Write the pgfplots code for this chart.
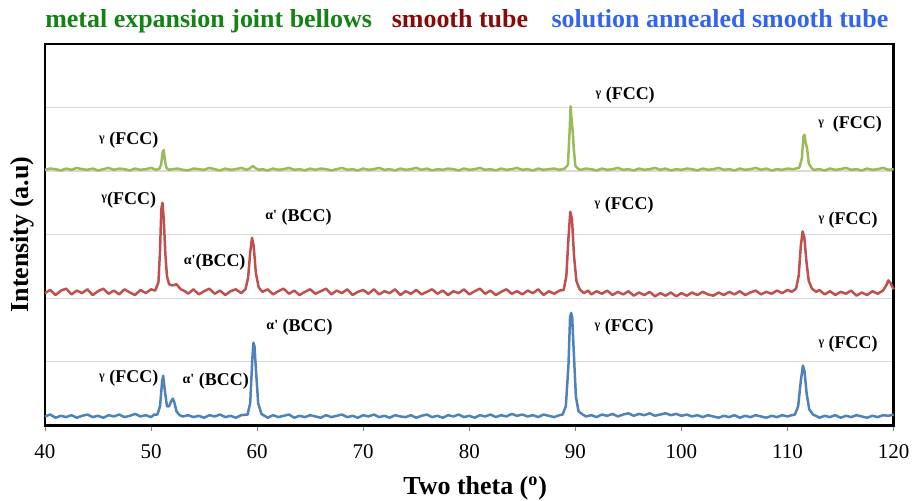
\documentclass[border=0pt]{standalone}
\usepackage{fontspec}
\setmainfont{Liberation Serif}
\usepackage{pgfplots}
\pgfplotsset{compat=1.18}
\definecolor{xgreen}{RGB}{155,187,89}
\definecolor{xred}{RGB}{192,80,77}
\definecolor{xblue}{RGB}{79,129,189}
\definecolor{tgreen}{RGB}{20,130,20}
\definecolor{tred}{RGB}{135,10,10}
\definecolor{tblue}{RGB}{50,100,240}
\newcommand{\gam}{{\fontsize{6}{6}\selectfont\raisebox{0.55ex}{γ}}}
\newcommand{\alp}{{\fontsize{7}{7}\selectfont\raisebox{0.35ex}{α\textquotesingle}}}

\begin{document}
\begin{tikzpicture}
\begin{axis}[
    width=425pt, height=191pt, scale only axis,
    xmin=40, xmax=120, ymin=0, ymax=6,
    xtick={40,50,...,120},
    ytick={0,1,...,6}, yticklabels={},
    ytick style={draw=none},
    xtick pos=bottom, tick align=outside,
    major tick length=3pt,
    xtick style={draw=gray, thin},
    ymajorgrids, grid style={draw=gray!30, line width=0.6pt},
    axis line style={line width=1.2pt},
    ticklabel style={font=\fontsize{10.5}{12}\selectfont},
    xticklabel style={yshift=-3pt},
    /pgf/number format/assume math mode=true,
    every axis plot/.append style={line width=1.25pt, no markers, line join=round},
    clip=false,
]
% metal expansion joint bellows
\addplot[xgreen] coordinates {
(40,4.02)(40.5,4.04)(41,4.03)(41.5,4.01)(42,4.04)(42.5,4.02)(43,4.05)(43.5,4.03)(44,4.02)(44.5,4.04)(45,4.01)(45.5,4.03)(46,4.05)(46.5,4.02)(47,4.04)(47.5,4.03)(48,4.01)(48.5,4.04)(49,4.02)(49.5,4.03)(50,4.05)(50.5,4.02)(50.8,4.04)(50.95,4.10)(51.1,4.30)(51.2,4.33)(51.3,4.18)(51.45,4.05)(51.7,4.02)(52,4.03)(52.5,4.04)(53,4.02)(53.5,4.01)(54,4.04)(54.5,4.03)(55,4.02)(55.5,4.05)(56,4.03)(56.5,4.01)(57,4.04)(57.5,4.02)(58,4.03)(58.5,4.05)(59,4.02)(59.3,4.04)(59.6,4.08)(59.9,4.04)(60.2,4.02)(60.5,4.03)(61,4.01)(61.5,4.04)(62,4.02)(62.5,4.03)(63,4.05)(63.5,4.02)(64,4.03)(64.5,4.01)(65,4.04)(65.5,4.02)(66,4.04)(66.5,4.03)(67,4.01)(67.5,4.03)(68,4.05)(68.5,4.02)(69,4.03)(69.5,4.01)(70,4.04)(70.5,4.02)(71,4.03)(71.5,4.05)(72,4.02)(72.5,4.03)(73,4.01)(73.5,4.04)(74,4.02)(74.5,4.03)(75,4.05)(75.5,4.02)(76,4.04)(76.5,4.01)(77,4.03)(77.5,4.02)(78,4.04)(78.5,4.03)(79,4.01)(79.5,4.04)(80,4.02)(80.5,4.03)(81,4.05)(81.5,4.02)(82,4.03)(82.5,4.01)(83,4.04)(83.5,4.02)(84,4.03)(84.5,4.05)(85,4.02)(85.5,4.03)(86,4.01)(86.5,4.04)(87,4.02)(87.5,4.03)(88,4.04)(88.5,4.02)(89,4.04)(89.3,4.10)(89.45,4.60)(89.55,5.02)(89.65,4.80)(89.75,4.62)(89.85,4.35)(90,4.08)(90.3,4.03)(90.5,4.02)(91,4.04)(91.5,4.03)(92,4.01)(92.5,4.04)(93,4.02)(93.5,4.03)(94,4.05)(94.5,4.02)(95,4.03)(95.5,4.01)(96,4.04)(96.5,4.02)(97,4.03)(97.5,4.05)(98,4.02)(98.5,4.04)(99,4.01)(99.5,4.03)(100,4.02)(100.5,4.04)(101,4.03)(101.5,4.01)(102,4.04)(102.5,4.02)(103,4.03)(103.5,4.05)(104,4.02)(104.5,4.03)(105,4.01)(105.5,4.04)(106,4.02)(106.5,4.03)(107,4.05)(107.5,4.02)(108,4.04)(108.5,4.01)(109,4.03)(109.5,4.02)(110,4.04)(110.5,4.03)(111.1,4.05)(111.35,4.20)(111.5,4.55)(111.6,4.57)(111.7,4.45)(111.85,4.35)(112,4.12)(112.3,4.04)(112.5,4.02)(113,4.03)(113.5,4.01)(114,4.04)(114.5,4.02)(115,4.03)(115.5,4.05)(116,4.02)(116.5,4.03)(117,4.01)(117.5,4.04)(118,4.02)(118.5,4.03)(119,4.05)(119.5,4.02)(120,4.03)
};
% smooth tube
\addplot[xred] coordinates {
(40,2.08)(40.5,2.13)(41,2.05)(41.5,2.12)(42,2.15)(42.5,2.06)(43,2.12)(43.5,2.08)(44,2.14)(44.5,2.05)(45,2.11)(45.5,2.15)(46,2.07)(46.5,2.12)(47,2.06)(47.5,2.14)(48,2.09)(48.5,2.05)(49,2.13)(49.5,2.08)(50,2.14)(50.4,2.12)(50.7,2.25)(50.85,2.75)(50.97,3.40)(51.08,3.50)(51.2,3.25)(51.35,2.70)(51.5,2.35)(51.7,2.22)(52,2.20)(52.4,2.22)(52.8,2.14)(53.2,2.11)(53.5,2.07)(54,2.14)(54.5,2.06)(55,2.11)(55.5,2.15)(56,2.07)(56.5,2.12)(57,2.05)(57.5,2.11)(58,2.14)(58.5,2.08)(58.9,2.14)(59.15,2.32)(59.35,2.72)(59.52,2.95)(59.68,2.82)(59.88,2.40)(60.15,2.17)(60.5,2.10)(61,2.14)(61.5,2.06)(62,2.11)(62.5,2.15)(63,2.07)(63.5,2.12)(64,2.05)(64.5,2.10)(65,2.14)(65.5,2.07)(66,2.11)(66.5,2.15)(67,2.06)(67.5,2.12)(68,2.08)(68.5,2.14)(69,2.05)(69.5,2.10)(70,2.13)(70.5,2.07)(71,2.14)(71.5,2.06)(72,2.11)(72.5,2.08)(73,2.14)(73.5,2.05)(74,2.11)(74.5,2.07)(75,2.13)(75.5,2.06)(76,2.10)(76.5,2.14)(77,2.07)(77.5,2.12)(78,2.05)(78.5,2.11)(79,2.08)(79.5,2.14)(80,2.06)(80.5,2.11)(81,2.15)(81.5,2.07)(82,2.12)(82.5,2.05)(83,2.10)(83.5,2.14)(84,2.07)(84.5,2.11)(85,2.06)(85.5,2.12)(86,2.08)(86.5,2.14)(87,2.05)(87.5,2.11)(88,2.07)(88.5,2.12)(88.9,2.13)(89.15,2.35)(89.35,2.95)(89.52,3.36)(89.68,3.25)(89.88,2.65)(90.1,2.27)(90.4,2.14)(90.8,2.08)(91.2,2.12)(91.5,2.06)(92,2.11)(92.5,2.07)(93,2.12)(93.5,2.05)(94,2.10)(94.5,2.06)(95,2.11)(95.5,2.04)(96,2.09)(96.5,2.05)(97,2.10)(97.5,2.03)(98,2.08)(98.5,2.04)(99,2.09)(99.5,2.03)(100,2.08)(100.5,2.04)(101,2.09)(101.5,2.05)(102,2.10)(102.5,2.06)(103,2.04)(103.5,2.09)(104,2.05)(104.5,2.10)(105,2.06)(105.5,2.11)(106,2.05)(106.5,2.09)(107,2.12)(107.5,2.06)(108,2.10)(108.5,2.07)(109,2.12)(109.5,2.08)(110,2.13)(110.4,2.10)(110.8,2.15)(111.05,2.35)(111.25,2.82)(111.42,3.05)(111.58,2.96)(111.78,2.58)(112,2.27)(112.3,2.15)(112.7,2.10)(113,2.13)(113.5,2.06)(114,2.11)(114.5,2.05)(115,2.10)(115.5,2.07)(116,2.12)(116.5,2.04)(117,2.09)(117.5,2.05)(118,2.11)(118.5,2.07)(119,2.12)(119.3,2.20)(119.5,2.28)(119.7,2.24)(120,2.14)
};
% solution annealed smooth tube
\addplot[xblue] coordinates {
(40,0.14)(40.5,0.17)(41,0.12)(41.5,0.15)(42,0.13)(42.5,0.16)(43,0.12)(43.5,0.15)(44,0.17)(44.5,0.13)(45,0.15)(45.5,0.12)(46,0.16)(46.5,0.14)(47,0.17)(47.5,0.13)(48,0.15)(48.5,0.18)(49,0.14)(49.5,0.16)(50,0.13)(50.3,0.17)(50.6,0.17)(50.85,0.30)(51.05,0.70)(51.15,0.78)(51.3,0.55)(51.5,0.30)(51.7,0.30)(51.9,0.38)(52.05,0.42)(52.2,0.36)(52.4,0.22)(52.7,0.16)(53,0.14)(53.5,0.16)(54,0.13)(54.5,0.15)(55,0.12)(55.5,0.16)(56,0.14)(56.5,0.17)(57,0.13)(57.5,0.15)(58,0.12)(58.5,0.16)(59.1,0.17)(59.35,0.35)(59.55,1.05)(59.65,1.30)(59.75,1.25)(59.9,0.85)(60.1,0.35)(60.4,0.18)(60.8,0.14)(61,0.12)(61.5,0.16)(62,0.13)(62.5,0.15)(63,0.17)(63.5,0.12)(64,0.15)(64.5,0.13)(65,0.16)(65.5,0.14)(66,0.12)(66.5,0.16)(67,0.13)(67.5,0.15)(68,0.17)(68.5,0.13)(69,0.15)(69.5,0.12)(70,0.16)(70.5,0.14)(71,0.17)(71.5,0.13)(72,0.15)(72.5,0.12)(73,0.16)(73.5,0.14)(74,0.13)(74.5,0.16)(75,0.12)(75.5,0.15)(76,0.17)(76.5,0.13)(77,0.15)(77.5,0.12)(78,0.16)(78.5,0.14)(79,0.17)(79.5,0.13)(80,0.15)(80.5,0.12)(81,0.16)(81.5,0.14)(82,0.17)(82.5,0.13)(83,0.16)(83.5,0.14)(84,0.18)(84.5,0.15)(85,0.17)(85.5,0.14)(86,0.16)(86.5,0.13)(87,0.17)(87.5,0.15)(88,0.13)(88.5,0.16)(88.8,0.17)(89.1,0.30)(89.35,0.95)(89.5,1.70)(89.6,1.77)(89.7,1.70)(89.85,1.15)(90.05,0.45)(90.3,0.22)(90.7,0.17)(91,0.14)(91.5,0.16)(92,0.13)(92.5,0.17)(93,0.15)(93.5,0.18)(94,0.14)(94.5,0.17)(95,0.19)(95.5,0.15)(96,0.18)(96.5,0.16)(97,0.19)(97.5,0.15)(98,0.17)(98.5,0.19)(99,0.16)(99.5,0.18)(100,0.15)(100.5,0.17)(101,0.14)(101.5,0.16)(102,0.13)(102.5,0.16)(103,0.14)(103.5,0.12)(104,0.15)(104.5,0.13)(105,0.16)(105.5,0.12)(106,0.15)(106.5,0.13)(107,0.16)(107.5,0.14)(108,0.12)(108.5,0.15)(109,0.13)(109.5,0.16)(110,0.14)(110.4,0.16)(110.7,0.17)(111,0.30)(111.25,0.70)(111.45,0.94)(111.6,0.85)(111.8,0.50)(112.05,0.25)(112.4,0.17)(112.8,0.14)(113,0.12)(113.5,0.15)(114,0.13)(114.5,0.16)(115,0.12)(115.5,0.15)(116,0.13)(116.5,0.16)(117,0.14)(117.5,0.12)(118,0.15)(118.5,0.13)(119,0.16)(119.5,0.15)(120,0.17)
};
% peak labels
\begin{scope}[every node/.style={font=\bfseries\fontsize{9}{10}\selectfont, inner sep=0pt}]
\node at (axis cs:47.9,4.49) {\gam\ (FCC)};
\node at (axis cs:94.7,5.20) {\gam\ (FCC)};
\node at (axis cs:115.9,4.73) {\gam\ \ (FCC)};
\node at (axis cs:47.9,3.55) {\gam(FCC)};
\node at (axis cs:56.0,2.57) {\alp(BCC)};
\node at (axis cs:63.9,3.27) {\alp\ (BCC)};
\node at (axis cs:94.6,3.47) {\gam\ (FCC)};
\node at (axis cs:115.7,3.22) {\gam\ (FCC)};
\node at (axis cs:47.9,0.74) {\gam\ (FCC)};
\node at (axis cs:56.1,0.69) {\alp\ (BCC)};
\node at (axis cs:64.0,1.54) {\alp\ (BCC)};
\node at (axis cs:94.6,1.55) {\gam\ (FCC)};
\node at (axis cs:115.7,1.27) {\gam\ (FCC)};
\end{scope}
\end{axis}
% titles and axis labels
\node[anchor=base west, font=\bfseries\fontsize{13}{15}\selectfont, text=tgreen, inner sep=0pt] at (0pt,199pt) {metal expansion joint bellows};
\node[anchor=base west, font=\bfseries\fontsize{13}{15}\selectfont, text=tred, inner sep=0pt] at (173.5pt,199pt) {smooth tube};
\node[anchor=base west, font=\bfseries\fontsize{13}{15}\selectfont, text=tblue, inner sep=0pt] at (253.5pt,199pt) {solution annealed smooth tube};
\node[font=\bfseries\fontsize{13}{15}\selectfont, inner sep=0pt] at (215.5pt,-31.5pt) {Two theta (\textsuperscript{o})};
\node[rotate=90, font=\bfseries\fontsize{13}{15}\selectfont, inner sep=0pt] at (-11.5pt,95.5pt) {Intensity (a.u)};
\path (-22.5pt,-36pt) rectangle (435.5pt,213pt);
\end{tikzpicture}
\end{document}
